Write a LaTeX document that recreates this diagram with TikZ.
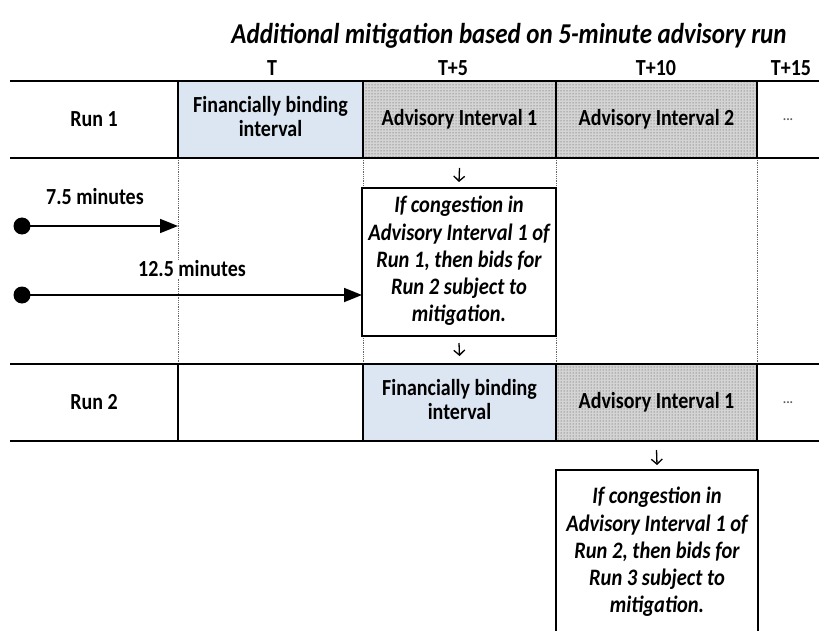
\documentclass[tikz,border=0pt]{standalone}
\usepackage{graphicx}
\usepackage{fontspec}
\setmainfont{Carlito}
\usetikzlibrary{patterns,arrows.meta}
\definecolor{lblue}{RGB}{220,230,242}
\definecolor{dgray}{RGB}{212,212,212}
\newcommand{\vstr}[1]{\scalebox{1}[1.15]{#1}}
\newcommand{\mlines}[1]{\vstr{\begin{tabular}{@{}c@{}}#1\end{tabular}}}
\begin{document}
\begin{tikzpicture}[x=1pt,y=-1pt,
  cellbox/.style={minimum width=#1, minimum height=77, inner sep=0pt, outer sep=0pt, align=center,
    font=\bfseries\fontsize{20}{21.7}\selectfont},
  bluecell/.style={cellbox=#1, fill=lblue},
  advcell/.style={cellbox=#1, fill=dgray, postaction={pattern=dots, pattern color=gray!55!black}},
  dotscell/.style={cellbox=#1, font=\bfseries\fontsize{13}{13}\selectfont, text=gray!70!black},
  rowline/.style={line width=2.2pt},
  colline/.style={line width=1.5pt},
  dotline/.style={densely dotted, gray!80!black, line width=0.8pt},
  condbox/.style={draw, line width=1.6pt, fill=white, minimum width=#1, inner sep=0pt, outer sep=0pt,
    align=center, font=\bfseries\itshape\fontsize{20.5}{23.7}\selectfont},
  lbl/.style={font=\bfseries\fontsize{20}{20}\selectfont, inner sep=1pt},
  startdot/.style={circle, fill=black, minimum size=17pt, inner sep=0pt},
  bigarr/.style={line width=1.8pt, -{Triangle[length=18pt,width=14pt]}},
  smallarr/.style={line width=1.3pt, -{Straight Barb[length=5pt,width=11pt]}}
]
\useasboundingbox (0,0) rectangle (819,631);
\clip (0,0) rectangle (819,631);

% title and time labels
\node[font=\bfseries\itshape\fontsize{25}{25}\selectfont] (title) at (509,36) {\vstr{Additional mitigation based on 5-minute advisory run}};
\node[lbl] (tT) at (272,68) {\vstr{T}};
\node[lbl] (t5) at (453,68) {\vstr{T+5}};
\node[lbl] (t10) at (656,68) {\vstr{T+10}};
\node[lbl] (t15) at (791,68) {\vstr{T+15}};

% row 1
\node[cellbox=168] (r1) at (94,119.5) {\vstr{Run 1}};
\node[bluecell=185] (fb1) at (270.5,119.5) {\mlines{Financially binding\\interval}};
\node[advcell=193] (a11) at (459.5,119.5) {\vstr{Advisory Interval 1}};
\node[advcell=201] (a12) at (656.5,119.5) {\vstr{Advisory Interval 2}};
\node[dotscell=62] (d1) at (788,119.5) {...};

% row 2
\node[cellbox=168] (r2) at (94,402.5) {\vstr{Run 2}};
\node[cellbox=185] (e2) at (270.5,402.5) {};
\node[bluecell=193] (fb2) at (459.5,402.5) {\mlines{Financially binding\\interval}};
\node[advcell=201] (a21) at (656.5,402.5) {\vstr{Advisory Interval 1}};
\node[dotscell=62] (d2) at (788,402.5) {...};

% dotted guide lines
\draw[dotline] (r1.south east) -- (r2.north east);
\draw[dotline] (fb1.south east) -- (e2.north east);
\draw[dotline] (a11.south east) -- (fb2.north east);
\draw[dotline] (a12.south east) -- (a21.north east);

% table lines
\draw[rowline] (r1.north west) -- (d1.north east);
\draw[rowline] (r1.south west) -- (d1.south east);
\draw[rowline] (r2.north west) -- (d2.north east);
\draw[rowline] (r2.south west) -- (d2.south east);
\foreach \c in {r1,fb1,a11,a12,r2,e2,fb2,a21}{
  \draw[colline] (\c.north east) -- (\c.south east);
}

% condition boxes
\node[condbox=194, minimum height=148] (box1) at (459,262)
  {\mlines{If congestion in\\Advisory Interval 1 of\\Run 1, then bids for\\Run 2 subject to\\mitigation.}};
\node[condbox=202, minimum height=166] (box2) at (657,553)
  {\mlines{If congestion in\\Advisory Interval 1 of\\Run 2, then bids for\\Run 3 subject to\\mitigation.}};

% small arrows
\draw[smallarr] ([yshift=-10pt]a11.south) -- ([yshift=6pt]box1.north);
\draw[smallarr] ([yshift=-7pt]box1.south) -- ([yshift=8pt]fb2.north);
\draw[smallarr] ([yshift=-9pt]a21.south) -- ([yshift=5pt]box2.north);

% timing arrows
\node[startdot] (s1) at (22,226) {};
\node[startdot] (s2) at (22,295) {};
\draw[bigarr] (s1.center) -- (r1.south east |- s1.center);
\draw[bigarr] (s2.center) -- (box1.west |- s2.center);
\node[lbl] (l1) at (95,197) {\vstr{7.5 minutes}};
\node[lbl, fill=white] (l2) at (192,269) {\vstr{12.5 minutes}};
\end{tikzpicture}
\end{document}
